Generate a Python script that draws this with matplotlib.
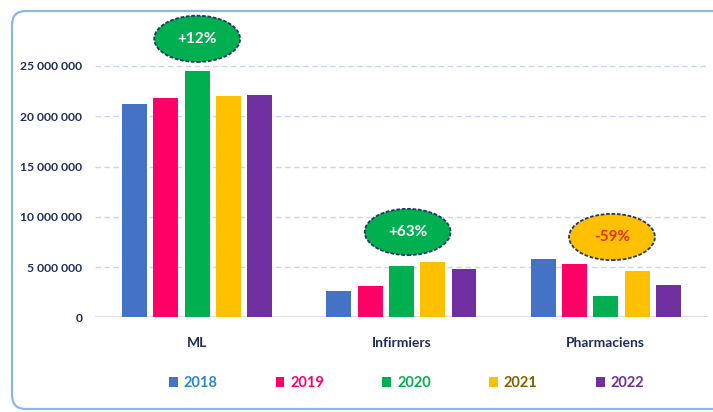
import matplotlib
matplotlib.use("Agg")
import matplotlib.pyplot as plt
import numpy as np
from matplotlib.patches import Ellipse, FancyBboxPatch
from matplotlib.ticker import FuncFormatter
from matplotlib.transforms import IdentityTransform

categories = ["ML", "Infirmiers", "Pharmaciens"]
years = ["2018", "2019", "2020", "2021", "2022"]
v2018 = [21200000, 2660000, 5820000]
v2019 = [21800000, 3130000, 5320000]
v2020 = [24500000, 5150000, 2140000]
v2021 = [22000000, 5490000, 4620000]
v2022 = [22100000, 4820000, 3260000]
series = [v2018, v2019, v2020, v2021, v2022]

bar_colors = ["#4472C4", "#FF0066", "#00B050", "#FFC000", "#7030A0"]
legend_text_colors = ["#2E86C8", "#FF0066", "#00B050", "#7F6200", "#7030A0"]

# bulles de variation : texte, categorie, hauteur, couleur fond, couleur texte
bubbles = [("+12%", 0, 27700000, "#00B050", "white"),
           ("+63%", 1, 8500000, "#00B050", "white"),
           ("-59%", 2, 8000000, "#FFC000", "#E0301E")]

navy = "#1F2D5A"
plt.rcParams["font.family"] = ["Lato", "DejaVu Sans"]

fig = plt.figure(figsize=(7.13, 4.12), dpi=100)
ax = fig.add_axes([0.1332, 0.2294, 0.8598, 0.7325])

x = np.arange(len(categories))
step = 0.153
width = 0.122
for i, vals in enumerate(series):
    ax.bar(x + (i - 2) * step, vals, width, color=bar_colors[i], label=years[i],
           zorder=3)

ax.set_xlim(-0.5, 2.5)
ax.set_ylim(0, 30000000)
ax.set_yticks(np.arange(0, 25000001, 5000000))
ax.yaxis.set_major_formatter(FuncFormatter(lambda v, p: f"{int(v):,}".replace(",", " ")))
ax.set_xticks(x)
ax.set_xticklabels(categories)
ax.tick_params(axis="y", length=0, pad=9, labelsize=8.7, labelcolor=navy)
ax.tick_params(axis="x", length=0, pad=14, labelsize=10, labelcolor=navy)
for lab in ax.get_xticklabels() + ax.get_yticklabels():
    lab.set_fontweight("bold")

for s in ax.spines.values():
    s.set_visible(False)
ax.grid(axis="y", color="#C8D6F0", linestyle=(0, (4, 2.5)), linewidth=1, zorder=0)
ax.axhline(0, color="#D9D9D9", linewidth=1.2, zorder=2)
ax.set_axisbelow(True)

for txt, cat, yc, fc, tc in bubbles:
    xc = cat + 0.03 * (cat > 0)
    e = Ellipse((xc, yc), 0.42, 4600000, facecolor=fc,
                edgecolor="#1F3864", linestyle=(0, (2, 1)), linewidth=1.3,
                zorder=5, clip_on=False)
    ax.add_patch(e)
    ax.text(xc, yc, txt, ha="center", va="center",
            color=tc, fontsize=11, fontweight="bold", zorder=6)

leg = fig.legend(loc="center", bbox_to_anchor=(0.57, 0.07), ncol=5, frameon=False,
                 handlelength=0.6, handleheight=0.6, handletextpad=0.4,
                 columnspacing=4.0, prop={"size": 10.5, "weight": "bold"})
for t, c in zip(leg.get_texts(), legend_text_colors):
    t.set_color(c)

# cadre arrondi autour du graphique
frame = FancyBboxPatch((12, 3), 740, 398, boxstyle="round,pad=0,rounding_size=14",
                       transform=IdentityTransform(), facecolor="none",
                       edgecolor="#8DB8E2", linewidth=1.6)
fig.patches.append(frame)

fig.savefig("out.png", dpi=100)
